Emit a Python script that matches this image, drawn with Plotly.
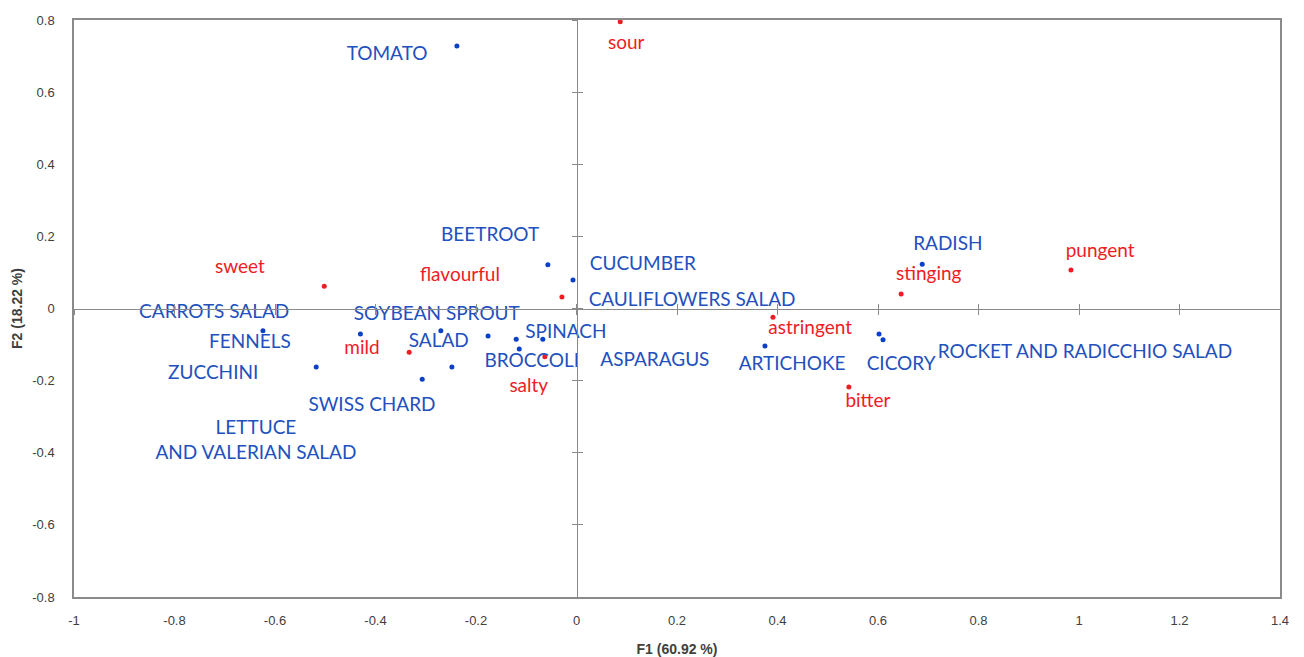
import plotly.graph_objects as go

# Product scores on the first two factors (blue points)
product_f1 = [-0.238, -0.057, -0.007, 0.688, -0.624, -0.518, -0.430, -0.270, -0.307,
              -0.248, -0.176, -0.120, -0.114, -0.067, 0.375, 0.602, 0.610]
product_f2 = [0.728, 0.121, 0.079, 0.123, -0.062, -0.162, -0.071, -0.062, -0.196,
              -0.162, -0.076, -0.085, -0.112, -0.085, -0.104, -0.071, -0.087]

# Product labels and where each label sits (factor coordinates)
product_labels = ["TOMATO", "BEETROOT", "CUCUMBER", "RADISH", "CAULIFLOWERS SALAD",
                  "CARROTS SALAD", "SOYBEAN SPROUT", "SPINACH", "FENNELS", "SALAD",
                  "BROCCOLI", "ASPARAGUS", "ARTICHOKE", "CICORY",
                  "ROCKET AND RADICCHIO SALAD", "ZUCCHINI", "SWISS CHARD",
                  "LETTUCE<br>AND VALERIAN SALAD"]
product_label_f1 = [-0.377, -0.172, 0.132, 0.739, 0.230, -0.721, -0.278, -0.021, -0.650,
                    -0.274, -0.089, 0.156, 0.429, 0.646, 1.012, -0.723, -0.407, -0.638]
product_label_f2 = [0.703, 0.199, 0.121, 0.176, 0.021, -0.012, -0.018, -0.068, -0.096,
                    -0.093, -0.148, -0.146, -0.157, -0.157, -0.123, -0.182, -0.270, -0.370]

# Sensory attributes (red points)
attribute_labels = ["sour", "sweet", "flavourful", "mild", "salty", "astringent",
                    "stinging", "pungent", "bitter"]
attribute_f1 = [0.087, -0.502, -0.029, -0.333, -0.063, 0.391, 0.646, 0.984, 0.542]
attribute_f2 = [0.795, 0.062, 0.032, -0.121, -0.134, -0.024, 0.040, 0.107, -0.218]
attribute_label_f1 = [0.099, -0.670, -0.232, -0.427, -0.095, 0.465, 0.701, 1.042, 0.580]
attribute_label_f2 = [0.733, 0.112, 0.090, -0.112, -0.218, -0.057, 0.093, 0.157, -0.259]

# Axis ticks
x_ticks = [-1, -0.8, -0.6, -0.4, -0.2, 0, 0.2, 0.4, 0.6, 0.8, 1, 1.2, 1.4]
x_tick_text = ["-1", "-0.8", "-0.6", "-0.4", "-0.2", "0", "0.2", "0.4", "0.6", "0.8", "1", "1.2", "1.4"]
y_ticks = [-0.8, -0.6, -0.4, -0.2, 0, 0.2, 0.4, 0.6, 0.8]
y_tick_text = ["-0.8", "-0.6", "-0.4", "-0.2", "0", "0.2", "0.4", "0.6", "0.8"]

X_RANGE = [-1, 1.4]
Y_RANGE = [-0.8, 0.8]

BLUE_DOT = "#0a3fc8"
BLUE_TEXT = "#2250bd"
RED = "#ee1c24"
FRAME = "#8a8a8a"
LABEL_FONT = "Lato"
LABEL_SIZE = 19

fig = go.Figure()

# Traces are spread across three overlaid axis pairs so that the
# origin-crossing axes (x2/y2 and x3/y3) get drawn.
fig.add_trace(go.Scatter(
    x=product_f1, y=product_f2, mode="markers",
    marker=dict(color=BLUE_DOT, size=5), hoverinfo="skip", showlegend=False,
    xaxis="x", yaxis="y"))
fig.add_trace(go.Scatter(
    x=attribute_f1, y=attribute_f2, mode="markers",
    marker=dict(color=RED, size=5), hoverinfo="skip", showlegend=False,
    xaxis="x2", yaxis="y2"))
fig.add_trace(go.Scatter(
    x=product_label_f1, y=product_label_f2, mode="text", text=product_labels,
    textposition="middle center",
    textfont=dict(family=LABEL_FONT, size=LABEL_SIZE, color=BLUE_TEXT),
    hoverinfo="skip", showlegend=False, xaxis="x3", yaxis="y3"))
fig.add_trace(go.Scatter(
    x=attribute_label_f1, y=attribute_label_f2, mode="text", text=attribute_labels,
    textposition="middle center",
    textfont=dict(family=LABEL_FONT, size=LABEL_SIZE, color=RED),
    hoverinfo="skip", showlegend=False, xaxis="x", yaxis="y"))

# Origin-crossing axes: one set of ticks pointing out, one pointing in,
# so the tick marks straddle the zero lines.
x_origin_pos = (0 - Y_RANGE[0]) / (Y_RANGE[1] - Y_RANGE[0])
y_origin_pos = (0 - X_RANGE[0]) / (X_RANGE[1] - X_RANGE[0])
cross_common = dict(showgrid=False, zeroline=False, showticklabels=False,
                    showline=True, linecolor=FRAME, linewidth=1,
                    tickcolor=FRAME, ticklen=5, tickwidth=1, automargin=False)

fig.update_layout(
    width=1304, height=657,
    margin=dict(l=74, r=24, t=20, b=60, autoexpand=False),
    paper_bgcolor="white", plot_bgcolor="white",
    font=dict(family="Liberation Sans, Arial, sans-serif", color="#404040"),
    xaxis=dict(range=X_RANGE, tickvals=x_ticks, ticktext=x_tick_text,
               showgrid=False, zeroline=False, ticks="", automargin=False,
               showline=True, mirror=True, linecolor=FRAME, linewidth=1.5,
               tickfont=dict(size=13, color="#404040"), ticklabelstandoff=11,
               title=dict(text="<b>F1 (60.92 %)</b>", font=dict(size=14, color="#404040"),
                          standoff=18)),
    yaxis=dict(range=Y_RANGE, tickvals=y_ticks, ticktext=y_tick_text,
               showgrid=False, zeroline=False, ticks="", automargin=False,
               showline=True, mirror=True, linecolor=FRAME, linewidth=1.5,
               tickfont=dict(size=13, color="#404040"), ticklabelstandoff=15,
               title=dict(text="<b>F2 (18.22 %)</b>", font=dict(size=14, color="#404040"),
                          standoff=6)),
    xaxis2=dict(overlaying="x", anchor="free", position=x_origin_pos, range=X_RANGE,
                tickvals=x_ticks, ticks="outside", **cross_common),
    xaxis3=dict(overlaying="x", anchor="free", position=x_origin_pos, range=X_RANGE,
                tickvals=x_ticks, ticks="inside", **cross_common),
    yaxis2=dict(overlaying="y", anchor="free", position=y_origin_pos, range=Y_RANGE,
                tickvals=y_ticks, ticks="outside", **cross_common),
    yaxis3=dict(overlaying="y", anchor="free", position=y_origin_pos, range=Y_RANGE,
                tickvals=y_ticks, ticks="inside", **cross_common),
)

fig.write_html("out.html")
